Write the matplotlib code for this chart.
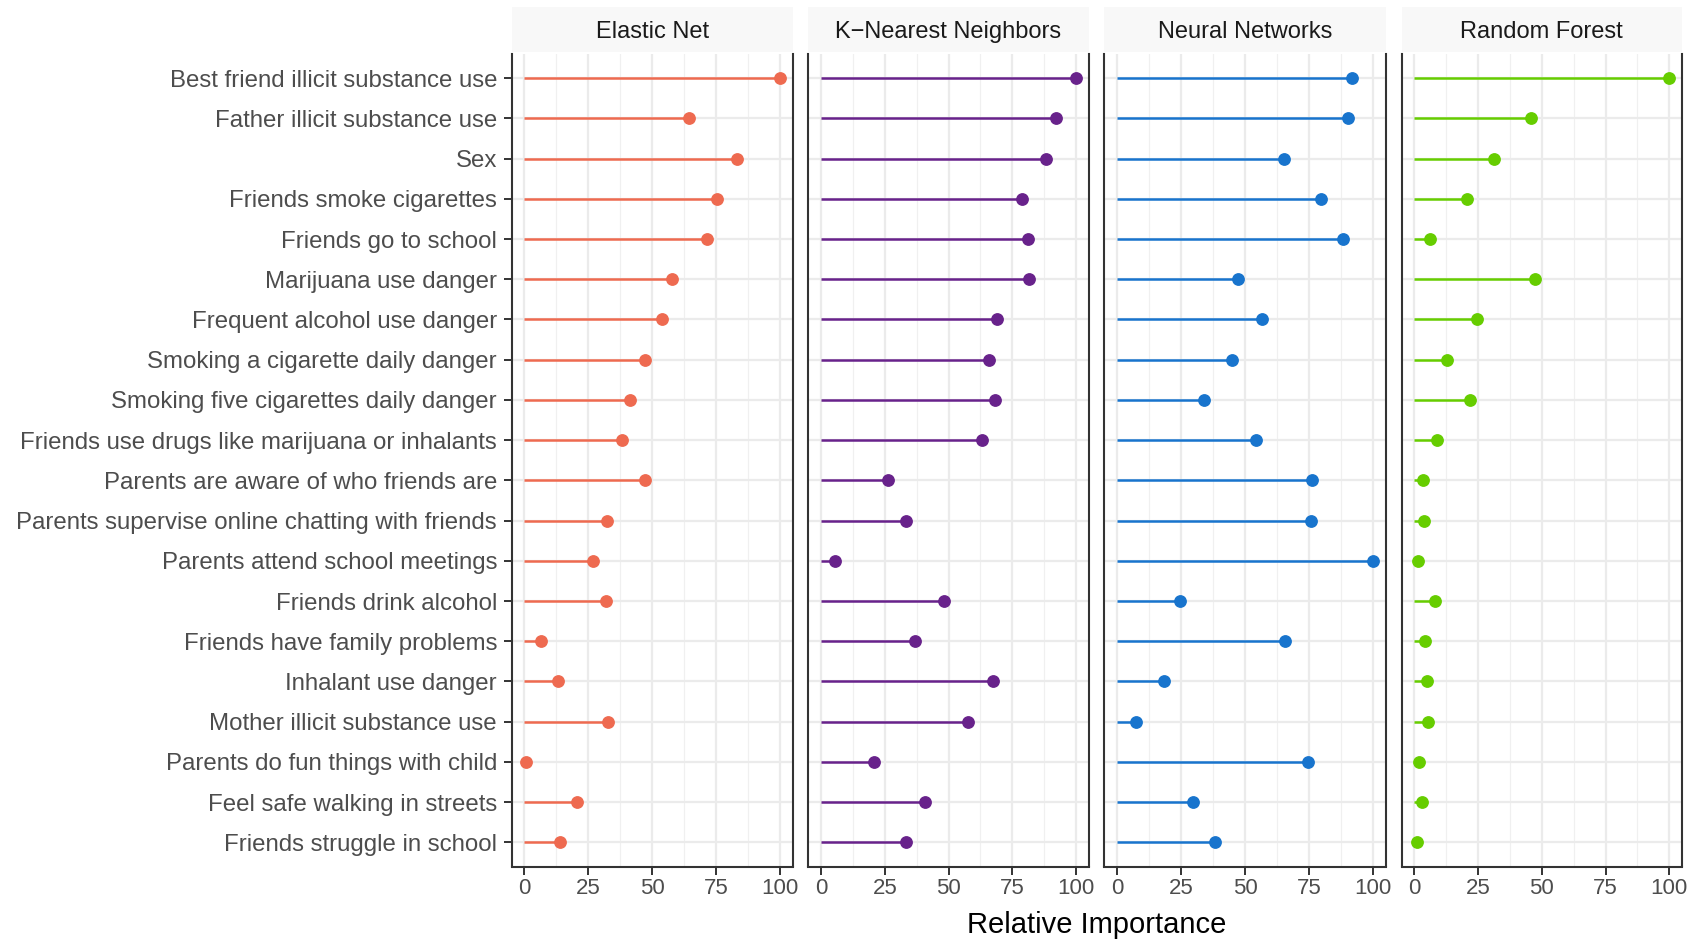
import numpy as np
import matplotlib
matplotlib.use("Agg")
from matplotlib import pyplot as plt

plt.rcParams['font.family'] = ['Liberation Sans', 'DejaVu Sans']

features = [
    "Best friend illicit substance use",
    "Father illicit substance use",
    "Sex",
    "Friends smoke cigarettes",
    "Friends go to school",
    "Marijuana use danger",
    "Frequent alcohol use danger",
    "Smoking a cigarette daily danger",
    "Smoking five cigarettes daily danger",
    "Friends use drugs like marijuana or inhalants",
    "Parents are aware of who friends are",
    "Parents supervise online chatting with friends",
    "Parents attend school meetings",
    "Friends drink alcohol",
    "Friends have family problems",
    "Inhalant use danger",
    "Mother illicit substance use",
    "Parents do fun things with child",
    "Feel safe walking in streets",
    "Friends struggle in school",
]

models = ["Elastic Net", "K\u2212Nearest Neighbors", "Neural Networks", "Random Forest"]

elastic_net = [100, 64.4, 83.1, 75.4, 71.4, 57.8, 53.9, 47.0, 41.3, 38.1,
               47.2, 32.3, 26.7, 31.9, 6.5, 13.2, 32.6, 0.6, 20.5, 14.1]
knn = [100, 92.2, 88.1, 78.7, 81.2, 81.5, 69.1, 65.8, 68.4, 63.1,
       26.4, 33.5, 5.4, 48.4, 36.7, 67.3, 57.6, 20.8, 40.6, 33.5]
neural_net = [91.9, 90.1, 65.2, 79.8, 88.4, 47.2, 56.6, 45.0, 34.0, 54.4,
              76.1, 75.7, 100, 24.7, 65.5, 18.5, 7.4, 74.5, 29.5, 38.1]
random_forest = [100, 45.7, 31.3, 20.8, 6.3, 47.4, 24.5, 12.9, 21.7, 8.8,
                 3.2, 3.6, 1.4, 8.1, 4.0, 4.8, 5.2, 1.6, 3.0, 1.0]

model_values = [elastic_net, knn, neural_net, random_forest]
colors = ["#EE6A50", "#68228B", "#1874CD", "#66CD00"]

W, H = 1703, 941
fig = plt.figure(figsize=(W / 100, H / 100), dpi=100)

panel_x = [(511.7, 792.7), (808.3, 1088.7), (1104.3, 1386.0), (1401.7, 1682.0)]
panel_top, panel_bot = 54.0, 866.5
strip_top, strip_bot = 7.0, 52.0

ypos = np.arange(1, len(features) + 1)
dark = "#333333"

for i, (name, vals, col) in enumerate(zip(models, model_values, colors)):
    x0, x1 = panel_x[i]
    ax = fig.add_axes([x0 / W, 1 - panel_bot / H, (x1 - x0) / W, (panel_bot - panel_top) / H])
    ax.set_xlim(-5, 105)
    ax.set_ylim(len(features) + 0.6, 0.4)

    ax.set_xticks([0, 25, 50, 75, 100])
    ax.set_xticks([12.5, 37.5, 62.5, 87.5], minor=True)
    ax.set_yticks(ypos)
    ax.grid(True, which='major', color="#EBEBEB", lw=1.6, zorder=0)
    ax.grid(True, which='minor', axis='x', color="#F0F0F0", lw=0.9, zorder=0)
    ax.set_axisbelow(True)

    ax.hlines(ypos, 0, vals, color=col, lw=1.8, zorder=2)
    ax.plot(vals, ypos, 'o', color=col, ms=8.2, zorder=3)

    for s in ['left', 'right', 'bottom']:
        ax.spines[s].set_color(dark)
        ax.spines[s].set_linewidth(1.5)
    ax.spines['top'].set_visible(False)

    ax.tick_params(axis='x', which='major', length=5.5, width=1.4, color=dark,
                   labelsize=16, labelcolor="#4D4D4D", pad=3)
    ax.tick_params(axis='x', which='minor', length=0)
    if i == 0:
        ax.set_yticklabels(features)
        ax.tick_params(axis='y', length=5.5, width=1.4, color=dark,
                       labelsize=17.3, labelcolor="#4D4D4D", pad=5)
    else:
        ax.tick_params(axis='y', length=0, labelleft=False)

    # facet strip
    sx = fig.add_axes([x0 / W, 1 - strip_bot / H, (x1 - x0) / W, (strip_bot - strip_top) / H])
    sx.set_facecolor("#F8F8F8")
    sx.set_xticks([])
    sx.set_yticks([])
    for s in sx.spines.values():
        s.set_visible(False)
    sx.text(0.5, 0.44, name, ha='center', va='center', fontsize=17, color="#1A1A1A",
            transform=sx.transAxes)

fig.text((511.7 + 1682.0) / 2 / W, 1 - 925 / H, "Relative Importance",
         ha='center', va='center', fontsize=21, color="black")

fig.savefig("out.png", dpi=100)
